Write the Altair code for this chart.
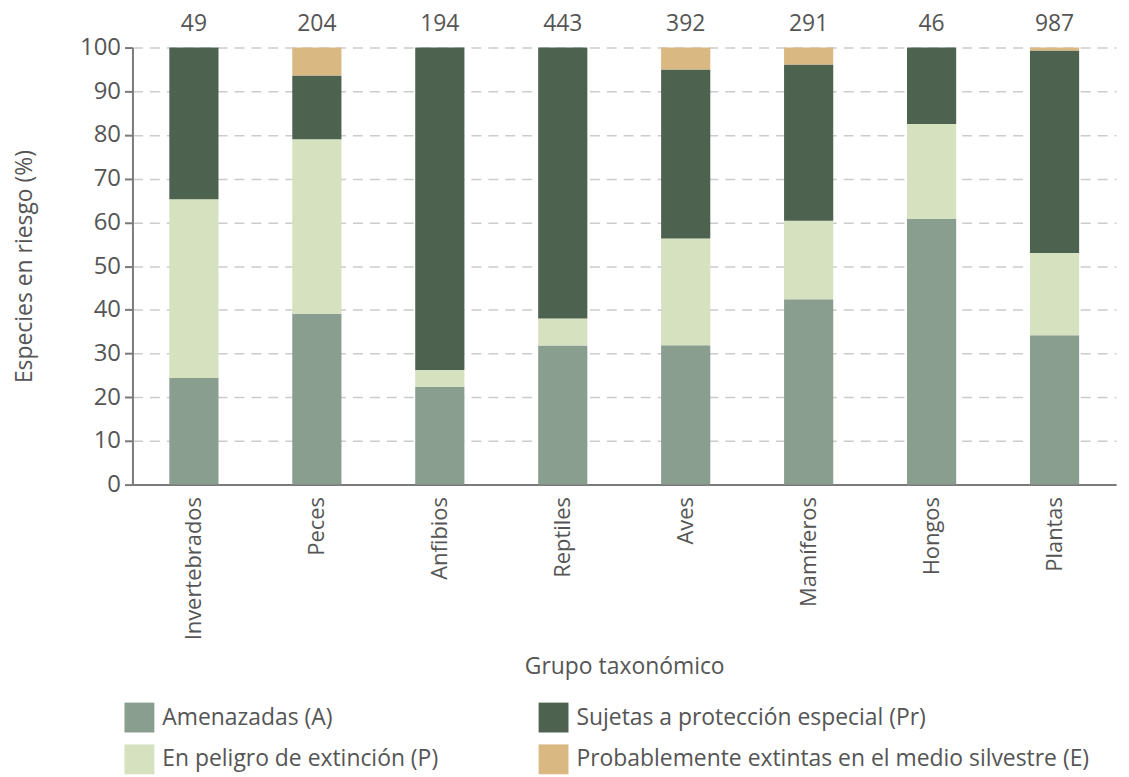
import altair as alt
import pandas as pd

grupos = ["Invertebrados", "Peces", "Anfibios", "Reptiles", "Aves", "Mamíferos", "Hongos", "Plantas"]
totales = [49, 204, 194, 443, 392, 291, 46, 987]

amenazadas = [24.4, 39.1, 22.4, 31.8, 31.9, 42.4, 60.8, 34.2]
peligro = [40.9, 39.9, 3.8, 6.2, 24.4, 18.0, 21.7, 18.8]
proteccion = [34.7, 14.6, 73.8, 62.0, 38.7, 35.7, 17.5, 46.3]
extintas = [0.0, 6.4, 0.0, 0.0, 5.0, 3.9, 0.0, 0.7]

categorias = [
    "Amenazadas (A)",
    "En peligro de extinción (P)",
    "Sujetas a protección especial (Pr)",
    "Probablemente extintas en el medio silvestre (E)",
]
series = [amenazadas, peligro, proteccion, extintas]
colores = ["#8a9e90", "#d5e1bf", "#4d634f", "#d9b882"]

rows = []
for orden, (cat, vals) in enumerate(zip(categorias, series)):
    for g, v in zip(grupos, vals):
        rows.append({"grupo": g, "categoria": cat, "valor": v, "orden": orden})
df = pd.DataFrame(rows)
df_tot = pd.DataFrame({"grupo": grupos, "total": totales, "top": [100] * len(grupos)})

legend_domain = [categorias[0], categorias[2], categorias[1], categorias[3]]
legend_range = [colores[0], colores[2], colores[1], colores[3]]

FONT = "Open Sans"
GRAY = "#555555"
FS = 23

xscale = alt.Scale(paddingInner=0.6, paddingOuter=0.3)

bars = alt.Chart(df).mark_bar().encode(
    x=alt.X("grupo:N", sort=grupos, scale=xscale, title="Grupo taxonómico",
            axis=alt.Axis(labelAngle=270, labelAlign="right", labelBaseline="middle",
                          ticks=False, labelPadding=12, domain=True, domainColor="#7a7a7a",
                          domainWidth=2, labelFontSize=22, labelColor=GRAY,
                          titleFontSize=FS, titleColor=GRAY, titleFontWeight="normal",
                          titlePadding=16, labelFont=FONT, titleFont=FONT)),
    y=alt.Y("valor:Q", stack="zero", scale=alt.Scale(domain=[0, 100], nice=False),
            title="Especies en riesgo (%)",
            axis=alt.Axis(values=list(range(0, 101, 10)), tickSize=8, tickColor="#7a7a7a",
                          tickWidth=2, domainColor="#7a7a7a", domainWidth=2,
                          grid=True, gridColor="#cccccc", gridDash=[10, 7], gridWidth=1.5,
                          labelFontSize=24, labelColor=GRAY, labelPadding=4,
                          titleFontSize=FS, titleColor=GRAY, titleFontWeight="normal",
                          titlePadding=43, labelFont=FONT, titleFont=FONT)),
    color=alt.Color("categoria:N", scale=alt.Scale(domain=legend_domain, range=legend_range),
                    legend=alt.Legend(title=None, orient="none", legendX=-8, legendY=658,
                                      direction="horizontal", columns=2, symbolType="square",
                                      symbolSize=900, symbolStrokeWidth=0, symbolOpacity=1,
                                      labelFontSize=FS, labelColor=GRAY, labelFont=FONT,
                                      labelLimit=700, columnPadding=100, rowPadding=12,
                                      labelOffset=8)),
    order=alt.Order("orden:Q", sort="ascending"),
)

labels = alt.Chart(df_tot).mark_text(fontSize=FS, color=GRAY, font=FONT, dy=-24).encode(
    x=alt.X("grupo:N", sort=grupos, scale=xscale),
    y=alt.Y("top:Q"),
    text=alt.Text("total:Q"),
)

chart = (bars + labels).properties(
    width=988, height=439, padding={"top": 3, "left": 5, "right": 5, "bottom": 5}
).configure_view(stroke=None)

chart.save("out.html", embed_options={"renderer": "svg", "actions": False})
